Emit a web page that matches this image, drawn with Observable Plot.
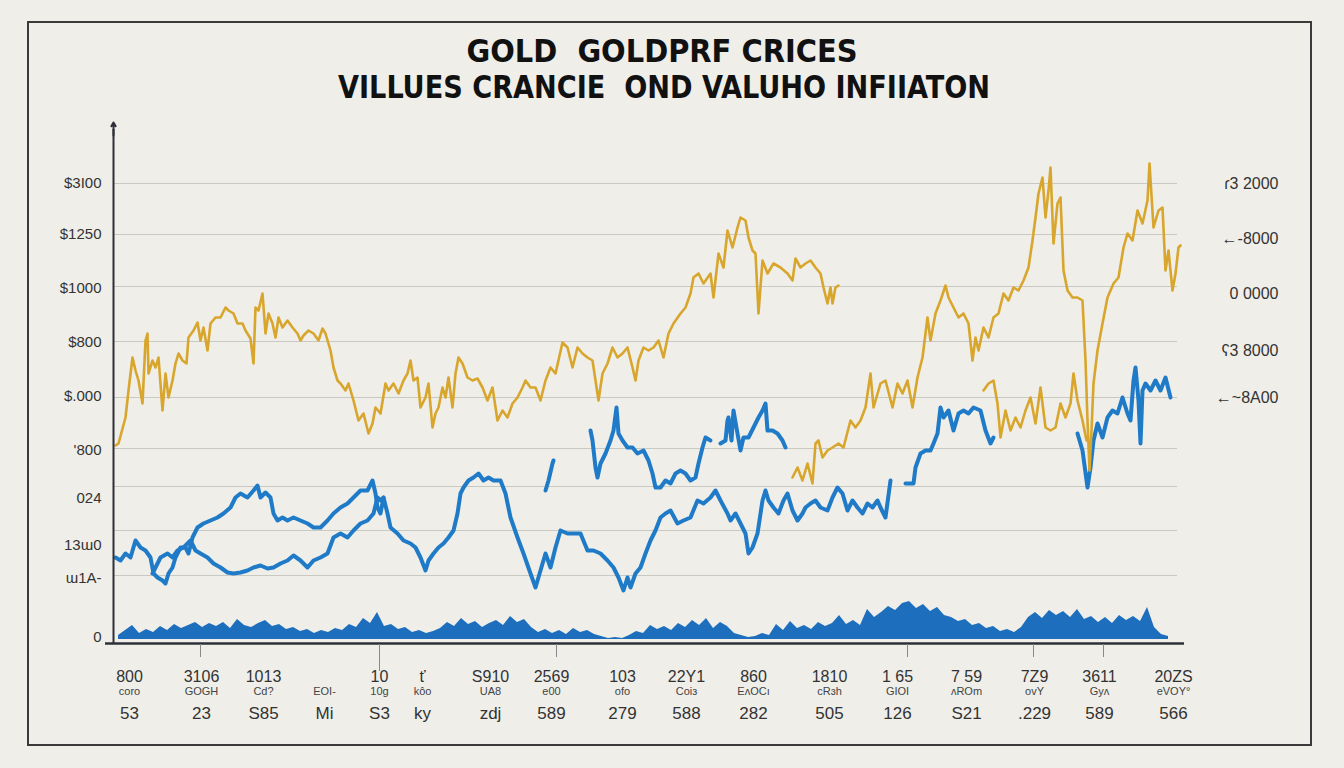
<!DOCTYPE html>
<html><head><meta charset="utf-8">
<script src="https://cdn.jsdelivr.net/npm/d3@7"></script>
<script src="https://cdn.jsdelivr.net/npm/@observablehq/plot@0.6"></script>
<style>
html,body{margin:0;padding:0;background:#efeee9;}
#page{position:relative;width:1344px;height:768px;overflow:hidden;background:#efeee9;}
#frame{position:absolute;left:27px;top:21px;width:1281px;height:721px;border:2px solid #3a3a3a;}
#chart{position:absolute;left:0;top:0;}
#title{position:absolute;left:0;top:0;}
#title text{white-space:pre;}
</style></head>
<body><div id="page"><div id="frame"></div><div id="chart"></div>
<svg id="title" width="1344" height="110" font-family="'Liberation Sans Narrow','DejaVu Sans Condensed',sans-serif" font-weight="bold" fill="#111">
<text x="662" y="62" font-size="32" text-anchor="middle" textLength="391" lengthAdjust="spacingAndGlyphs">GOLD  GOLDPRF CRICES</text>
<text x="664" y="98" font-size="32" text-anchor="middle" textLength="652" lengthAdjust="spacingAndGlyphs">VILLUES CRANCIE  OND VALUHO INFIIATON</text>
</svg></div>
<script>
// ---- data (x = time index, value = chart units above the baseline) ----
const gridValues = [460, 409, 357, 302, 246, 195, 157, 113, 68];
const leftTickValues = [460, 409, 355, 301, 247, 193, 145, 98, 65, 6];
const leftTickLabels = ["$3I00", "$1250", "$1000", "$800", "$.000", "'800", "024", "13ɯ0", "ɯ1A-", "0"];
const rightTickValues = [460, 405, 350, 293, 246];
const rightTickLabels = ["ɾ3 2000", "←-8000", "0 0000", "ʕ3 8000", "←~8A00"];
const xTickPositions = [200, 379, 556, 907, 1033, 1103];
const bottomX = [129, 201, 263, 324, 379, 422, 490, 551, 622, 686, 753, 829, 897, 966, 1034, 1099, 1173];
const bottomRow1 = ["800", "3106", "1013", "", "10", "ť", "S910", "2569", "103", "22Y1", "860", "1810", "1 65", "7 59", "7Z9", "3611", "20ZS"];
const bottomRow2 = ["coro", "GOGH", "Cd?", "EOI-", "10g", "kôo", "UA8", "e00", "ofo", "Coiз", "EʌOCı", "cRɜh", "GIOI", "ʌROm", "ovY", "Gyʌ", "eVOY°"];
const bottomRow3 = ["53", "23", "S85", "Mi", "S3", "ky", "zdj", "589", "279", "588", "282", "505", "126", "S21", ".229", "589", "566"];

const goldSeg1 = [[115,198],[118,200],[125,226],[128,253],[132,286],[135,273],[138,263],[142,240],[145,303],[147,310],[148,270],[152,283],[155,276],[158,286],[162,233],[165,270],[168,246],[172,263],[175,280],[178,290],[182,283],[186,280],[188,306],[193,313],[197,321],[200,303],[203,316],[207,293],[210,320],[215,326],[220,326],[225,336],[228,333],[233,330],[237,320],[242,320],[245,313],[250,305],[253,280],[255,336],[258,333],[262,350],[265,310],[268,330],[272,320],[275,306],[278,326],[282,316],[287,323],[292,316],[297,310],[300,303],[303,308],[308,313],[313,310],[318,303],[322,315],[325,310],[330,293],[333,276],[337,263],[340,260],[345,253],[348,260],[353,243],[358,223],[363,230],[368,210],[372,220],[375,236],[380,230],[385,260],[388,253],[393,260],[398,250],[403,263],[407,270],[410,283],[413,263],[417,266],[420,236],[425,246],[428,260],[432,216],[435,230],[438,236],[442,256],[445,246],[448,266],[452,236],[455,270],[458,286],[462,280],[467,266],[472,263],[477,265],[482,256],[487,243],[492,256],[497,223],[502,233],[507,226],[512,240],[517,246],[522,256],[525,263],[530,256],[535,256],[540,243],[545,263],[550,276],[555,270],[562,301],[567,296],[572,276],[577,296],[582,290],[587,286],[592,283],[595,263],[598,243],[602,270],[607,280],[612,296],[617,286],[622,290],[627,296],[632,276],[635,263],[638,283],[643,296],[648,293],[653,296],[658,303],[663,286],[668,310],[673,320],[680,330],[685,336],[690,350],[693,366],[698,370],[703,360],[710,370],[713,346],[718,390],[723,376],[727,413],[732,396],[737,416],[740,426],[745,423],[748,406],[752,393],[755,390],[758,330],[762,383],[767,370],[773,380],[780,376],[787,370],[792,363],[795,385],[800,376],[805,380],[810,383],[815,376],[820,370],[823,356],[827,340],[830,356],[832,340],[835,356],[838,358]];
const goldSeg2 = [[792,166],[797,176],[802,163],[807,180],[812,160],[815,200],[818,203],[822,186],[827,193],[832,196],[838,200],[843,196],[850,223],[855,216],[860,223],[865,236],[870,270],[873,236],[880,260],[885,263],[892,236],[897,260],[902,250],[907,263],[912,236],[917,266],[922,286],[927,326],[930,303],[935,330],[940,343],[945,358],[948,346],[953,336],[958,326],[963,330],[968,320],[972,283],[975,306],[978,293],[983,316],[988,306],[993,326],[998,330],[1003,350],[1008,343],[1013,356],[1018,353],[1023,363],[1028,376],[1032,403],[1035,426],[1038,450],[1042,466],[1045,426],[1048,453],[1050,476],[1053,400],[1057,440],[1060,446],[1063,373],[1067,353],[1072,346],[1077,346],[1082,343],[1085,283],[1087,223],[1089,173],[1091,213],[1093,260],[1097,293],[1102,320],[1107,346],[1113,360],[1118,366],[1123,396],[1127,410],[1132,403],[1137,433],[1142,420],[1147,443],[1149,480],[1153,416],[1158,433],[1162,436],[1165,373],[1168,393],[1172,353],[1175,370],[1178,396],[1180,398]];
const goldSeg3 = [[983,253],[988,260],[993,263],[997,240],[1000,206],[1005,233],[1010,213],[1015,226],[1020,216],[1025,233],[1030,246],[1035,220],[1040,256],[1045,216],[1050,213],[1055,216],[1060,240],[1065,226],[1070,240],[1073,270],[1077,243],[1082,223],[1086,203]];

const blueA = [[115,86],[120,83],[125,90],[130,86],[135,103],[140,96],[145,93],[150,86],[153,70],[157,66],[162,63],[165,60],[168,70],[172,76],[175,86],[180,96],[185,96],[188,90],[192,106],[197,116],[203,120],[210,123],[217,126],[223,130],[230,136],[235,146],[240,150],[247,146],[253,153],[257,158],[260,146],[265,151],[270,146],[273,130],[277,123],[282,126],[287,123],[293,126],[300,123],[307,120],[313,116],[320,116],[327,123],[333,130],[340,136],[347,140],[353,146],[360,153],[367,153],[372,163],[375,150],[377,136],[380,130],[383,146],[387,130],[390,116],[397,110],[403,103],[410,100],[415,96],[420,86],[425,73],[428,83],[433,90],[438,96],[443,100],[448,106],[453,113],[457,130],[460,150],[463,156],[468,163],[473,166],[478,170],[483,163],[488,166],[493,163],[500,163],[505,150],[510,126],[517,106],[523,90],[530,70],[535,56],[540,73],[545,90],[550,76],[555,96],[560,113],[567,110],[573,110],[580,110],[587,93],[593,93],[600,90],[607,83],[613,76],[618,66],[623,53],[627,66],[630,56],[635,70],[640,76],[645,90],[650,103],[655,113],[660,126],[665,130],[670,133],[677,120],[683,123],[690,126],[697,143],[703,140],[710,146],[715,153],[720,143],[727,130],[730,123],[735,130],[740,120],[745,110],[748,90],[752,96],[757,110],[762,143],[765,153],[768,143],[773,136],[778,130],[783,143],[787,150],[792,133],[797,123],[802,130],[805,136],[810,140],[815,143],[820,136],[827,133],[832,146],[837,156],[842,150],[847,133],[852,143],[857,136],[862,130],[867,140],[872,136],[877,143],[880,136],[885,126],[890,163]];
const blueB = [[152,70],[155,76],[160,86],[167,90],[172,86],[177,93],[183,96],[190,103],[195,93],[200,90],[207,86],[213,80],[220,76],[227,71],[233,70],[240,71],[247,73],[253,76],[260,78],[267,75],[273,76],[280,80],[287,83],[293,88],[300,83],[307,76],[313,83],[320,86],[327,90],[333,106],[340,110],[347,106],[353,113],[360,120],[367,123],[373,130],[377,146],[380,143],[383,146]];
const blueC = [[590,213],[592,203],[595,176],[597,166],[600,180],[605,190],[610,203],[613,213],[616,236],[618,210],[622,203],[627,196],[632,196],[637,190],[643,193],[648,183],[652,170],[655,156],[660,156],[665,163],[670,160],[675,170],[680,173],[685,170],[690,163],[695,166],[698,180],[702,196],[705,206],[710,203]];
const blueC2 = [[720,200],[725,203],[727,223],[728,226],[731,203],[733,233],[737,210],[740,193],[743,206],[748,206],[753,216],[758,226],[762,233],[765,240],[767,213],[772,213],[777,210],[782,203],[785,196]];
const blueD = [[545,153],[548,163],[552,180],[553,183]];
const blueE = [[905,160],[913,160],[915,176],[920,190],[925,193],[930,193],[933,200],[937,210],[940,236],[943,226],[948,233],[953,213],[958,230],[963,233],[968,230],[973,236],[980,233],[985,213],[990,200],[993,206]];
const blueF = [[1077,210],[1082,193],[1087,156],[1090,176],[1093,203],[1097,220],[1102,206],[1107,226],[1112,233],[1117,230],[1122,246],[1127,230],[1130,223],[1133,263],[1135,276],[1138,243],[1140,200],[1142,253],[1145,260],[1150,253],[1155,263],[1160,253],[1165,266],[1170,246]];

const volumeStart = 118, volumeStep = 7;
const volume = [4,9,14,6,10,7,13,9,15,11,14,17,12,16,13,17,11,20,14,12,16,19,13,15,10,12,8,10,6,9,7,11,9,15,12,21,16,27,13,15,10,12,7,9,6,8,11,17,13,21,15,18,12,16,19,14,23,17,20,12,7,10,6,9,5,11,7,9,5,3,1,2,1,4,8,6,14,10,13,9,16,12,19,14,21,11,17,13,6,4,2,3,6,4,15,9,18,11,14,10,17,13,16,24,15,19,14,30,22,27,33,29,36,38,31,35,28,32,24,22,18,20,14,16,11,13,8,10,7,12,22,27,21,29,24,28,22,30,20,23,17,22,16,24,19,23,18,32,12,5,3];
const volumeBase = 4;

// ---- build tables ----
const seg = (arr, id) => arr.map(([x, v]) => ({x, v, id}));
const gold = [...seg(goldSeg1, "g1"), ...seg(goldSeg2, "g2"), ...seg(goldSeg3, "g3")];
const blue = [...seg(blueA, "a"), ...seg(blueB, "b"), ...seg(blueC, "c"), ...seg(blueC2, "c2"), ...seg(blueD, "d"), ...seg(blueE, "e"), ...seg(blueF, "f")];
const vol = volume.map((h, i) => ({x: volumeStart + i * volumeStep, h}));
const leftTicks = leftTickValues.map((v, i) => ({v, t: leftTickLabels[i]}));
const rightTicks = rightTickValues.map((v, i) => ({v, t: rightTickLabels[i]}));
const bottom = bottomX.map((x, i) => ({x, r1: bottomRow1[i], r2: bottomRow2[i], r3: bottomRow3[i]}));

const font = "'Liberation Sans', Arial, sans-serif";
const chart = Plot.plot({
  width: 1344, height: 768,
  marginTop: 124, marginBottom: 125, marginLeft: 105, marginRight: 160,
  x: {domain: [105, 1184], axis: null},
  y: {domain: [0, 519], axis: null},
  style: {background: "transparent", fontFamily: font, overflow: "visible"},
  marks: [
    Plot.ruleY(gridValues, {x1: 113, x2: 1177, stroke: "#c9c9c4", strokeWidth: 1}),
    Plot.areaY(vol, {x: "x", y1: volumeBase, y2: d => volumeBase + d.h, fill: "#1d6fbe"}),
    Plot.line(blue, {x: "x", y: "v", z: "id", stroke: "#1f7ac8", strokeWidth: 4, strokeLinejoin: "round", strokeLinecap: "round"}),
    Plot.line(gold, {x: "x", y: "v", z: "id", stroke: "#d8a62c", strokeWidth: 2.6, strokeLinejoin: "round"}),
    Plot.ruleY([0], {x1: 105, x2: 1184, stroke: "#2f2f3a", strokeWidth: 2.5}),
    Plot.ruleX([113], {y1: 0, y2: 514, stroke: "#2f2f3a", strokeWidth: 2}),
    Plot.arrow([0], {x1: 113, y1: 508, x2: 113, y2: 521, headLength: 7, stroke: "#2f2f3a", strokeWidth: 2}),
    Plot.ruleX(xTickPositions, {y1: -1, y2: d => d === 379 ? -28 : -14, stroke: "#8a8a8a", strokeWidth: 1}),
    Plot.text(leftTicks, {x: 101, y: "v", text: "t", textAnchor: "end", fontSize: 15, fill: "#333"}),
    Plot.text(rightTicks, {x: 1278, y: "v", text: "t", textAnchor: "end", fontSize: 16, fill: "#333"}),
    Plot.text(bottom, {x: "x", y: -33, text: "r1", fontSize: 16, fill: "#333"}),
    Plot.text(bottom, {x: "x", y: -48, text: "r2", fontSize: 11, fill: "#444"}),
    Plot.text(bottom, {x: "x", y: -70, text: "r3", fontSize: 17, fill: "#333"})
  ]
});
document.getElementById("chart").appendChild(chart);
</script>
</body></html>
